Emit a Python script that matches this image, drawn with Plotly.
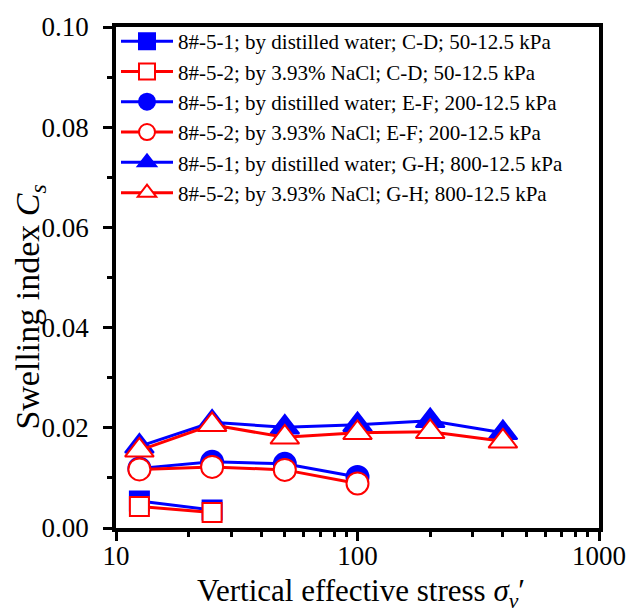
import plotly.graph_objects as go

# Data
x_cd = [12.5, 25]
y_cd_water = [0.0054, 0.0036]
y_cd_nacl = [0.0043, 0.0031]

x_ef = [12.5, 25, 50, 100]
y_ef_water = [0.0119, 0.0132, 0.0128, 0.0102]
y_ef_nacl = [0.0117, 0.0122, 0.0116, 0.0089]

x_gh = [12.5, 25, 50, 100, 200, 400]
y_gh_water = [0.0163, 0.0211, 0.0201, 0.0206, 0.0214, 0.0190]
y_gh_nacl = [0.0155, 0.0206, 0.0181, 0.0190, 0.0192, 0.0173]

names = [
    "8#-5-1; by distilled water; C-D; 50-12.5 kPa",
    "8#-5-2; by 3.93% NaCl; C-D; 50-12.5 kPa",
    "8#-5-1; by distilled water; E-F; 200-12.5 kPa",
    "8#-5-2; by 3.93% NaCl; E-F; 200-12.5 kPa",
    "8#-5-1; by distilled water; G-H; 800-12.5 kPa",
    "8#-5-2; by 3.93% NaCl; G-H; 800-12.5 kPa",
]

x_title = "Vertical effective stress <i>σ</i><sub><i>v</i></sub>′"
y_title = "Swelling index <i>C</i><sub><i>s</i></sub>"

BLUE = "#0000FF"
RED = "#FF0000"

fig = go.Figure()

series = [
    (x_cd, y_cd_water, names[0], BLUE, "square", 19, True),
    (x_cd, y_cd_nacl, names[1], RED, "square", 19, False),
    (x_ef, y_ef_water, names[2], BLUE, "circle", 22, True),
    (x_ef, y_ef_nacl, names[3], RED, "circle", 22, False),
    (x_gh, y_gh_water, names[4], BLUE, "triangle-up", 25, True),
    (x_gh, y_gh_nacl, names[5], RED, "triangle-up", 25, False),
]

for xs, ys, nm, col, sym, sz, filled in series:
    fig.add_trace(go.Scatter(
        x=xs, y=ys, name=nm, mode="lines+markers",
        line=dict(color=col, width=3),
        marker=dict(symbol=sym, size=sz,
                    color=col if filled else "white",
                    line=dict(color=col, width=2)),
        legendgroup=nm,
    ))

FONT = "Liberation Serif"

fig.update_layout(
    width=643, height=612,
    margin=dict(l=116, r=44, t=22, b=84),
    paper_bgcolor="white", plot_bgcolor="white",
    font=dict(family=FONT, color="black", size=26),
    showlegend=True,
    legend=dict(
        x=0.0, y=1.012, xanchor="left", yanchor="top",
        bgcolor="rgba(0,0,0,0)", borderwidth=0,
        font=dict(family=FONT, size=21),
        itemwidth=52, tracegroupgap=0,
    ),
    xaxis=dict(
        type="log", range=[1, 3],
        showgrid=False, zeroline=False,
        showline=True, linecolor="black", linewidth=3.5, mirror=True,
        ticks="outside", ticklen=9, tickwidth=3, tickcolor="black",
        dtick=1, ticklabelstandoff=-8,
        tickfont=dict(family=FONT, size=27),
        minor=dict(ticks="outside", ticklen=5, tickwidth=3, tickcolor="black", dtick="D1", showgrid=False),
    ),
    yaxis=dict(
        range=[0, 0.1],
        showgrid=False, zeroline=False,
        showline=True, linecolor="black", linewidth=3.5, mirror=True,
        ticks="outside", ticklen=9, tickwidth=3, tickcolor="black",
        dtick=0.02, tickformat=".2f", ticklabelstandoff=9,
        tickfont=dict(family=FONT, size=27),
        minor=dict(ticks="outside", ticklen=5, tickwidth=3, tickcolor="black", dtick=0.01, showgrid=False),
    ),
    annotations=[
        dict(text=x_title, xref="paper", yref="paper", x=0.508, y=-0.085,
             xanchor="center", yanchor="top", showarrow=False,
             font=dict(family=FONT, size=31, color="black")),
        dict(text=y_title, xref="paper", yref="paper", x=-0.18, y=0.44,
             xanchor="center", yanchor="middle", showarrow=False, textangle=-90,
             font=dict(family=FONT, size=34, color="black")),
    ],
)

fig.write_html("out.html")
